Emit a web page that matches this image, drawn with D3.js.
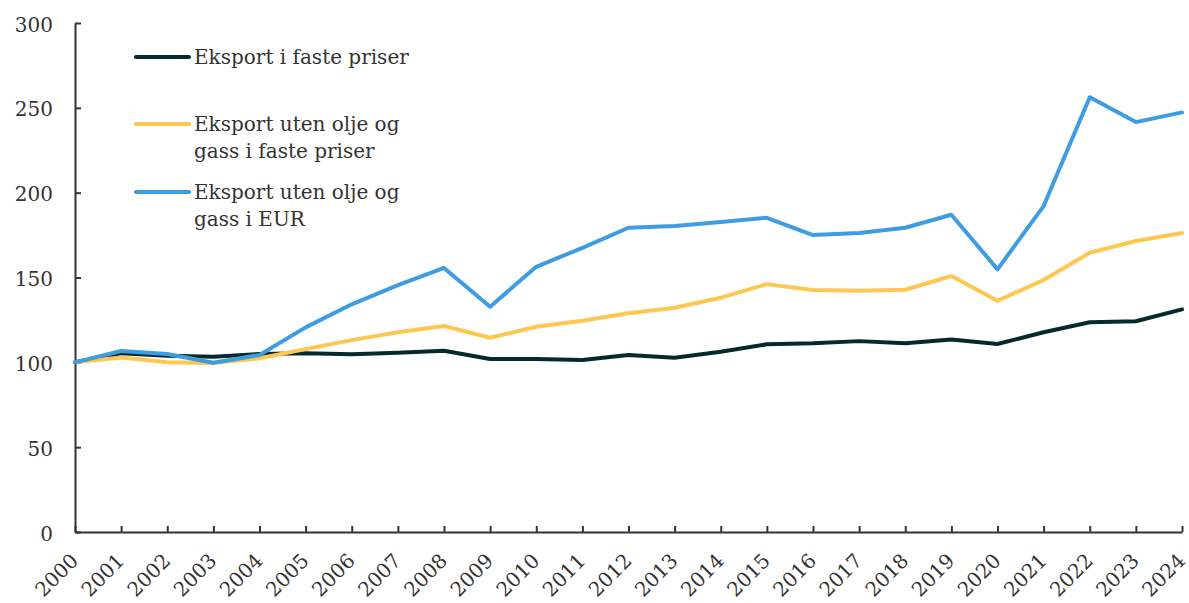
<!doctype html>
<html lang="no">
  <head>
    <meta charset="utf-8">
    <title>Eksport</title>
    <script src="https://d3js.org/d3.v7.min.js"></script>
    <style>
      body { margin: 0; background: #fff; font-family: 'DejaVu Serif', serif; }
      .axis path, .axis line { stroke: #333; stroke-width: 2px; }
      .axis text { fill: #333; font-family: 'DejaVu Serif', serif; font-size: 20px; }
    </style>
  </head>
  <body>
    <div id="root"></div>
  <script>

    // data
    const years = d3.range(2000, 2025);
    const eksportFaste = [100, 105.3, 103.9, 103.3, 104.9, 105.3, 104.7, 105.7, 106.8, 102, 102, 101.4,
      104.3, 102.7, 106.2, 110.6, 111.2, 112.5, 111.2, 113.5, 110.8, 117.7, 123.6, 124.2, 131.2];
    const utenOljeFaste = [100, 102.9, 100, 99.6, 102.4, 107.8, 113.1, 117.7, 121.4, 114.5, 121, 124.5,
      128.9, 132.2, 138.1, 146.1, 142.6, 142.2, 142.8, 150.9, 136.3, 148.5, 164.6, 171.5, 176.2];
    const utenOljeEur = [100, 106.7, 104.9, 99.8, 104.3, 120.6, 134.2, 145.5, 155.6, 132.8, 156.3, 167.5,
      179.3, 180.3, 182.7, 185.2, 175, 176.2, 179.3, 187, 154.8, 192.1, 256.2, 241.6, 247.3];
    const yTicks = [0, 50, 100, 150, 200, 250, 300];

    const series = [
      { name: ["Eksport i faste priser"], values: eksportFaste, color: "#062a2b" },
      { name: ["Eksport uten olje og", "gass i faste priser"], values: utenOljeFaste, color: "#fec752" },
      { name: ["Eksport uten olje og", "gass i EUR"], values: utenOljeEur, color: "#3e9de0" }
    ];

    const width = 1189, height = 603;
    const margin = { top: 23, right: 7, bottom: 71, left: 75 };

    const svg = d3.select("#root").append("svg")
      .attr("width", width)
      .attr("height", height);

    const x = d3.scaleLinear().domain([2000, 2024]).range([margin.left, width - margin.right]);
    const y = d3.scaleLinear().domain([0, 300]).range([height - margin.bottom, margin.top]);

    // axes
    svg.append("g")
      .attr("class", "axis")
      .attr("transform", `translate(0,${y(0)})`)
      .call(d3.axisBottom(x).tickValues(years).tickFormat(d3.format("d")).tickSize(-6).tickSizeOuter(0))
      .call(g => g.selectAll("text")
        .attr("text-anchor", "end")
        .attr("dy", null)
        .attr("y", 0)
        .attr("transform", "translate(4,30) rotate(-45)"));

    svg.append("g")
      .attr("class", "axis")
      .attr("transform", `translate(${margin.left},0)`)
      .call(d3.axisLeft(y).tickValues(yTicks).tickSize(-6).tickSizeOuter(0).tickPadding(22))
      .call(g => g.selectAll("text").attr("dy", "0.4em"));

    // lines
    const line = d3.line()
      .x((d, i) => x(years[i]))
      .y(d => y(d));

    // draw in order: black, yellow, blue on top
    svg.selectAll(".series")
      .data(series)
      .enter()
      .append("path")
      .attr("class", "series")
      .attr("d", d => line(d.values))
      .attr("fill", "none")
      .attr("stroke", d => d.color)
      .attr("stroke-width", 4)
      .attr("stroke-linejoin", "round")
      .attr("stroke-linecap", "round");

    // legend
    const legendY = [57, 124, 192];
    const legend = svg.selectAll(".legend")
      .data(series)
      .enter()
      .append("g")
      .attr("class", "legend")
      .attr("transform", (d, i) => `translate(136,${legendY[i]})`);

    legend.append("line")
      .attr("x1", 0).attr("x2", 53)
      .attr("stroke", d => d.color)
      .attr("stroke-width", 4)
      .attr("stroke-linecap", "round");

    legend.append("text")
      .attr("x", 58)
      .attr("fill", "#333")
      .attr("font-size", "20px")
      .selectAll("tspan")
      .data(d => d.name)
      .enter()
      .append("tspan")
      .attr("x", 58)
      .attr("y", (d, i) => 7 + i * 27)
      .text(d => d);

  </script>
  </body>
</html>
